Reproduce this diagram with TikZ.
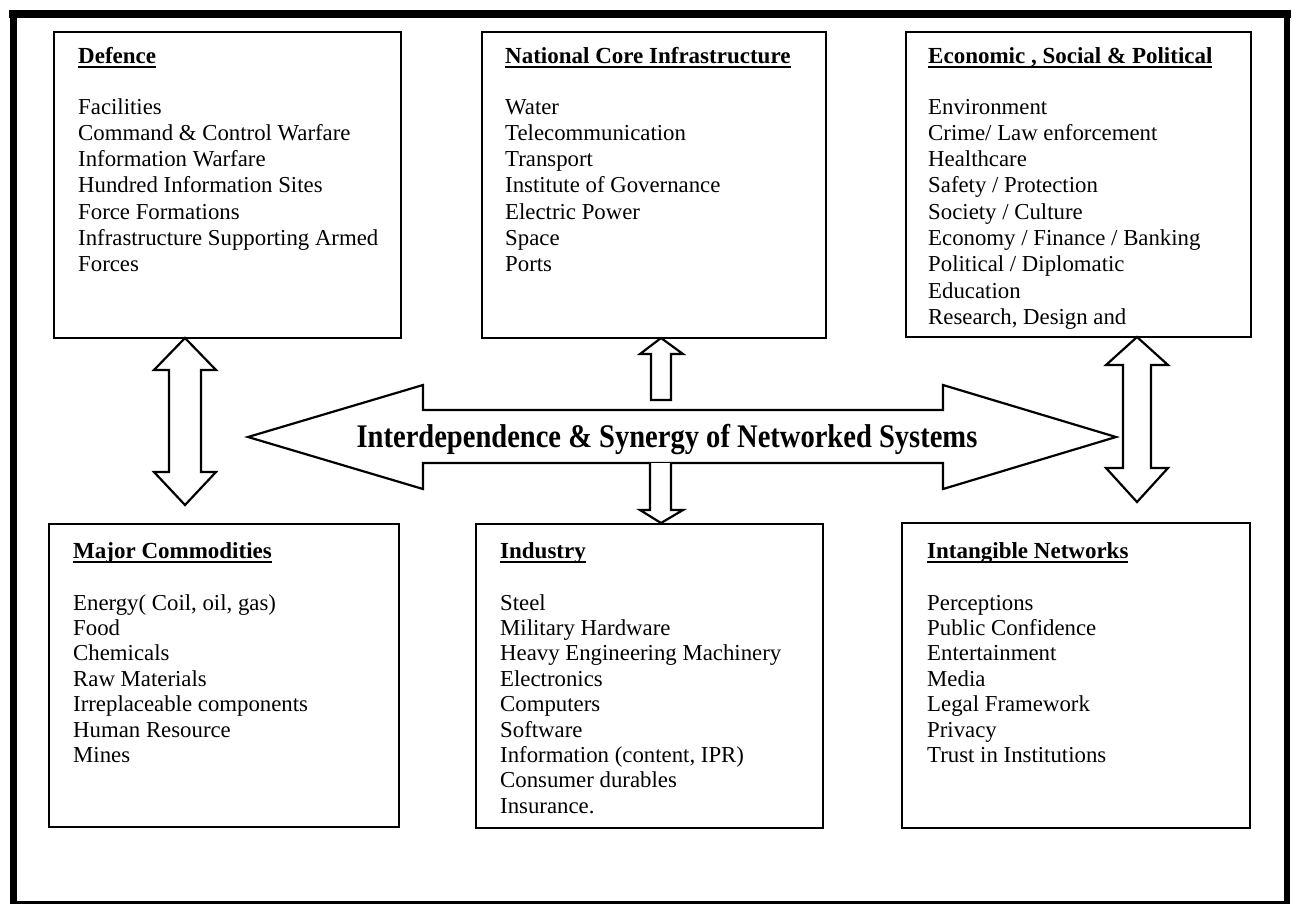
\documentclass[tikz,border=0pt]{standalone}
\usepackage{fontspec}
\setmainfont{Liberation Serif}
% narrower face for the banner text inside the central arrow
\newfontfamily\hubfont[FakeStretch=0.865]{Liberation Serif}
% underline at a fixed distance below the baseline
\newcommand\undertitle[1]{\setbox0=\hbox{#1}\rlap{\rule[-5pt]{\wd0}{1.6pt}}\box0}
% one node per line of a list: prefix, x, first baseline, line pitch, lines
\newcommand\itemlist[5]{%
  \foreach \t [count=\i] in {#5}{\node[item] (#1-\i) at (#2,{#3+#4*(\i-1)}) {\t};}}

\begin{document}
\begin{tikzpicture}[x=1pt,y=-1pt,
  box/.style={draw, line width=2.2pt, fill=white, anchor=north west, inner sep=0pt},
  item/.style={anchor=base west, inner sep=0pt, font=\fontsize{22.8}{26}\selectfont},
  head/.style={anchor=base west, inner sep=0pt, font=\fontsize{23}{26}\selectfont\bfseries},
  blockarrow/.style={draw, line width=2.2pt, line join=miter, fill=white}]

\useasboundingbox[fill=white] (0,0) rectangle (1292,905);

% frame round the whole figure
\draw[line width=8pt] (9,14) -- (1291,14);
\draw[line width=7pt] (13,10) -- (13,903.5);
\draw[line width=6pt] (1287,10) -- (1287,903.5);
\draw[line width=3pt] (10,902) -- (1290,902);

% the six sector boxes
\node[box, minimum width=347pt, minimum height=306pt] (def) at (53,31) {};
\node[box, minimum width=344pt, minimum height=306pt] (nci) at (481,31) {};
\node[box, minimum width=345pt, minimum height=305pt] (eco) at (905,31) {};
\node[box, minimum width=350pt, minimum height=303pt] (mc)  at (48,523) {};
\node[box, minimum width=347pt, minimum height=304pt] (ind) at (475,523) {};
\node[box, minimum width=348pt, minimum height=305pt] (int) at (901,522) {};

% vertical double arrows between the outer columns
\draw[blockarrow] (185,338) -- (216,370) -- (201,370) -- (201,472) -- (216,472)
  -- (185,505) -- (154,472) -- (169,472) -- (169,370) -- (154,370) -- cycle;
\draw[blockarrow] (1137,337) -- (1168,365) -- (1151,365) -- (1151,468) -- (1168,468)
  -- (1137,502) -- (1106,468) -- (1123,468) -- (1123,365) -- (1106,365) -- cycle;

% central double arrow
\draw[blockarrow] (248,437) -- (423,385) -- (423,410) -- (943,410) -- (943,385)
  -- (1116,437) -- (943,489) -- (943,463) -- (423,463) -- (423,489) -- cycle;
\node[anchor=base, inner sep=0pt, font=\hubfont\bfseries\fontsize{33}{36}\selectfont]
  (hub) at (667,447) {Interdependence \& Synergy of Networked Systems};

% small arrows to the middle column
\draw[blockarrow] (661,338) -- (683,354) -- (671,354) -- (671,400) -- (651,400)
  -- (651,354) -- (640,354) -- cycle;
\draw[blockarrow] (650,463) -- (650,510) -- (640,510) -- (661,523) -- (683,510)
  -- (671,510) -- (671,463);

% box contents
\node[head] (def-t) at (78,63)  {\undertitle{Defence}};
\node[head] (nci-t) at (505,63) {\undertitle{National Core Infrastructure}};
\node[head] (eco-t) at (928,63) {\undertitle{Economic , Social \& Political}};
\node[head] (mc-t)  at (73,558)  {\undertitle{Major Commodities}};
\node[head] (ind-t) at (500,558) {\undertitle{Industry}};
\node[head] (int-t) at (927,558) {\undertitle{Intangible Networks}};

\itemlist{def}{78}{114}{26.3}{Facilities, Command \& Control Warfare, Information Warfare,
  Hundred Information Sites, Force Formations, Infrastructure Supporting Armed, Forces}
\itemlist{nci}{505}{114}{26.3}{Water, Telecommunication, Transport, Institute of Governance,
  Electric Power, Space, Ports}
\itemlist{eco}{928}{114}{26.3}{Environment, Crime/ Law enforcement, Healthcare,
  Safety / Protection, Society / Culture, Economy / Finance / Banking,
  Political / Diplomatic, Education, {Research, Design and}}
\itemlist{mc}{73}{610}{25.4}{{Energy( Coil, oil, gas)}, Food, Chemicals, Raw Materials,
  Irreplaceable components, Human Resource, Mines}
\itemlist{ind}{500}{610}{25.4}{Steel, Military Hardware, Heavy Engineering Machinery,
  Electronics, Computers, Software, {Information (content, IPR)}, Consumer durables, Insurance.}
\itemlist{int}{927}{610}{25.4}{Perceptions, Public Confidence, Entertainment, Media,
  Legal Framework, Privacy, Trust in Institutions}
\end{tikzpicture}
\end{document}
